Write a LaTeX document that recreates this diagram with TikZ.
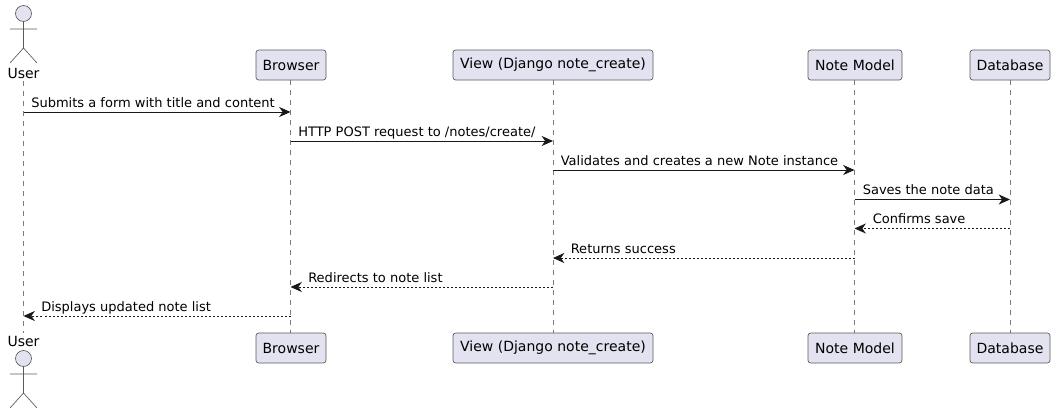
\documentclass[tikz,border=0pt]{standalone}
\usepackage{fontspec}
\setmainfont{DejaVu Sans}
\usetikzlibrary{arrows.meta}
\definecolor{partfill}{HTML}{E2E2F0}
\definecolor{partline}{HTML}{5A5A5A}
\tikzset{
  partbox/.style={draw=partline,fill=partfill,line width=0.5pt,rounded corners=2pt,minimum height=22.5pt,inner sep=0pt,font=\fontsize{10.5pt}{12pt}\selectfont},
  lifeline/.style={draw=partline!80,line width=0.4pt,dash pattern=on 3.75pt off 3.75pt},
  actorline/.style={draw=partline,line width=0.5pt},
  msg/.style={draw=black!90,line width=0.75pt,-{Stealth[length=8.5pt,width=7.5pt,inset=2.6pt]}},
  reply/.style={msg,dash pattern=on 1.5pt off 1.5pt},
  msgtext/.style={anchor=base west,inner sep=0pt,font=\fontsize{9.76pt}{12pt}\selectfont},
  actortext/.style={anchor=base,inner sep=0pt,font=\fontsize{10.5pt}{12pt}\selectfont}
}
\begin{document}
\begin{tikzpicture}[x=0.75pt,y=-0.75pt]
\useasboundingbox (0,0) rectangle (1055,414);

% lifelines first, the boxes go over them
\coordinate (browsertop) at (290.5,80);
\coordinate (browserend) at (290.5,333);
\coordinate (viewtop) at (553,80);
\coordinate (viewend) at (553,333);
\coordinate (notetop) at (854.5,80);
\coordinate (noteend) at (854.5,333);
\coordinate (dbtop) at (1010,80);
\coordinate (dbend) at (1010,333);
\coordinate (usertop) at (23.5,81);
\coordinate (userend) at (23.5,333);
\draw[lifeline] (usertop) -- (userend);
\draw[lifeline] (browsertop) -- (browserend);
\draw[lifeline] (viewtop) -- (viewend);
\draw[lifeline] (notetop) -- (noteend);
\draw[lifeline] (dbtop) -- (dbend);

% top row
\node[partbox,minimum width=52.5pt] (browser) at (291,65) {Browser};
\node[partbox,minimum width=150pt] (view) at (553,65) {View (Django note\_create)};
\node[partbox,minimum width=70.5pt] (note) at (855,65) {Note Model};
\node[partbox,minimum width=60pt] (db) at (1010,65) {Database};
\node[actortext] (user) at (23.5,78) {User};

% bottom row
\node[partbox,minimum width=52.5pt] (browserb) at (291,348) {Browser};
\node[partbox,minimum width=150pt] (viewb) at (553,348) {View (Django note\_create)};
\node[partbox,minimum width=70.5pt] (noteb) at (855,348) {Note Model};
\node[partbox,minimum width=60pt] (dbb) at (1010,348) {Database};
\node[actortext] (userb) at (23.5,346) {User};

% actors
\draw[actorline,fill=partfill] (23.5,13.5) circle [radius=8];
\draw[actorline] (23.5,21.5)--(23.5,48) (10,29)--(37,29) (10,63)--(23.5,48)--(37,63);
\draw[actorline,fill=partfill] (23.5,358.5) circle [radius=8];
\draw[actorline] (23.5,366.5)--(23.5,393) (10,374)--(37,374) (10,408)--(23.5,393)--(37,408);

% end points of the messages
\coordinate (u1) at (23.5,112);
\coordinate (b1) at (290.5,112);
\coordinate (b2) at (290.5,141);
\coordinate (v2) at (553,141);
\coordinate (v3) at (553,170);
\coordinate (n3) at (854.5,170);
\coordinate (n4) at (854.5,199.5);
\coordinate (d4) at (1010,199.5);
\coordinate (d5) at (1010,228.5);
\coordinate (n5) at (854.5,228.5);
\coordinate (n6) at (854.5,258);
\coordinate (v6) at (553,258);
\coordinate (v7) at (553,287);
\coordinate (b7) at (290.5,287);
\coordinate (b8) at (290.5,316);
\coordinate (u8) at (23.5,316);

\draw[msg] (u1) -- (b1);
\draw[msg] (b2) -- (v2);
\draw[msg] (v3) -- (n3);
\draw[msg] (n4) -- (d4);
\draw[reply] (d5) -- (n5);
\draw[reply] (n6) -- (v6);
\draw[reply] (v7) -- (b7);
\draw[reply] (b8) -- (u8);

% labels
\node[msgtext] (l1) at (31,107) {Submits a form with title and content};
\node[msgtext] (l2) at (298,136) {HTTP POST request to /notes/create/};
\node[msgtext] (l3) at (560.5,165) {Validates and creates a new Note instance};
\node[msgtext] (l4) at (862.5,194.5) {Saves the note data};
\node[msgtext] (l5) at (872.5,223.5) {Confirms save};
\node[msgtext] (l6) at (570.5,253) {Returns success};
\node[msgtext] (l7) at (308,282) {Redirects to note list};
\node[msgtext] (l8) at (41,311) {Displays updated note list};
\end{tikzpicture}
\end{document}
